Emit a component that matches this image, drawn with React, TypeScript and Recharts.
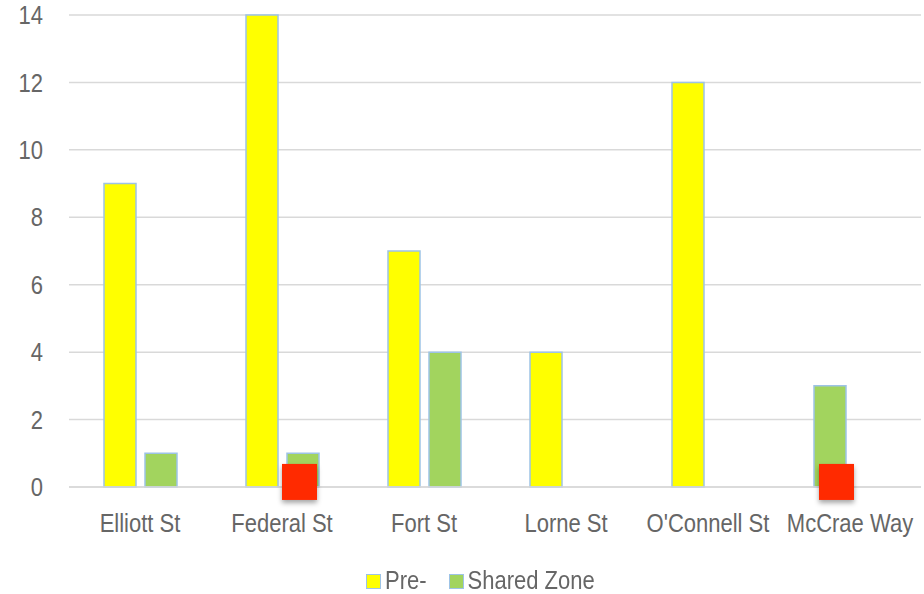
import { BarChart, Bar, XAxis, YAxis, CartesianGrid, Legend, Cell, ReferenceDot } from 'recharts';

const streets = ['Elliott St', 'Federal St', 'Fort St', 'Lorne St', "O'Connell St", 'McCrae Way'];
const preValues = [9, 14, 7, 4, 12, 3];
const sharedValues = [1, 1, 4, 0, 0, 0];
// the McCrae Way bar sits in the first slot but is coloured as a Shared Zone bar
const preColors = ['#ffff00', '#ffff00', '#ffff00', '#ffff00', '#ffff00', '#a2d45e'];
const yTicks = [0, 2, 4, 6, 8, 10, 12, 14];
const markers = [
    { street: 'Federal St', value: 0.15, dx: 17.5 },
    { street: 'McCrae Way', value: 0.15, dx: -13.5 },
];

const data = streets.map((name, i) => ({ name, pre: preValues[i], shared: sharedValues[i] }));

const FONT = '"Liberation Sans", Arial, sans-serif';
const EDGE = '#9dc3e6';
const TEXT = '#666';

// the source text is drawn a little taller than it is wide
function XTick(props: any) {
    const { x, y, payload } = props;
    const c = y + 8;
    return (
        <text x={x} y={y} dy="0.71em" textAnchor="middle" fill={TEXT} fontSize={22} fontFamily={FONT}
            transform={`translate(0 ${c}) scale(1 1.13) translate(0 ${-c})`}>
            {payload.value}
        </text>
    );
}

function YTick(props: any) {
    const { x, y, payload } = props;
    return (
        <text x={x} y={y} dy="0.355em" textAnchor="end" fill={TEXT} fontSize={22} fontFamily={FONT}
            transform={`translate(0 ${y}) scale(1 1.17) translate(0 ${-y})`}>
            {payload.value}
        </text>
    );
}

function LegendBox() {
    const item = (color: string, label: string, gap: number) => (
        <div style={{ display: 'flex', alignItems: 'center', marginRight: gap }}>
            <span style={{ width: 13, height: 13, background: color, border: `1.5px solid ${EDGE}`, marginRight: 4 }} />
            <span style={{ fontSize: 22, color: TEXT, fontFamily: FONT, display: 'inline-block', transform: 'scaleY(1.13)' }}>{label}</span>
        </div>
    );
    return (
        <div style={{ display: 'flex', height: 36, alignItems: 'center', paddingTop: 10, boxSizing: 'border-box', marginLeft: 366 }}>
            {item('#ffff00', 'Pre-', 22)}
            {item('#a2d45e', 'Shared Zone', 0)}
        </div>
    );
}

function redSquare(dx: number) {
    return (props: any) => {
        const { cx, cy } = props;
        return (
            <g>
                <defs>
                    <filter id={`sh${dx}`} x="-30%" y="-30%" width="160%" height="160%">
                        <feDropShadow dx="0" dy="3" stdDeviation="2.5" floodColor="#000" floodOpacity="0.35" />
                    </filter>
                </defs>
                <rect x={cx + dx - 17.5} y={cy - 18} width={35} height={36} fill="#ff2a00" filter={`url(#sh${dx})`} />
            </g>
        );
    };
}

export default function App() {
    return (
        <div style={{ position: 'absolute', left: 0, top: 0, width: 924, height: 594, background: '#fff' }}>
            <BarChart
                width={924}
                height={594}
                data={data}
                margin={{ top: 15, right: 3, bottom: 0, left: 0 }}
                barSize={32}
                barGap={9}
            >
                <CartesianGrid vertical={false} stroke="#d9d9d9" strokeWidth={1.5} />
                <XAxis
                    dataKey="name"
                    height={71}
                    tickLine={false}
                    tickSize={0}
                    tickMargin={28}
                    axisLine={{ stroke: '#d9d9d9', strokeWidth: 1.5 }}
                    tick={<XTick />}
                    interval={0}
                />
                <YAxis
                    width={69}
                    domain={[0, 14]}
                    ticks={yTicks}
                    axisLine={false}
                    tickLine={false}
                    tickSize={0}
                    tickMargin={26}
                    tick={<YTick />}
                />
                <Legend verticalAlign="bottom" content={() => <LegendBox />} wrapperStyle={{ height: 36 }} />
                <Bar dataKey="pre" name="Pre-" fill="#ffff00" stroke={EDGE} strokeWidth={1.5} isAnimationActive={false}>
                    {data.map((d, i) => (
                        <Cell key={d.name} fill={preColors[i]} />
                    ))}
                </Bar>
                <Bar dataKey="shared" name="Shared Zone" fill="#a2d45e" stroke={EDGE} strokeWidth={1.5} isAnimationActive={false} />
                {markers.map(m => (
                    <ReferenceDot key={m.street} x={m.street} y={m.value} r={0} shape={redSquare(m.dx)} />
                ))}
            </BarChart>
        </div>
    );
}
